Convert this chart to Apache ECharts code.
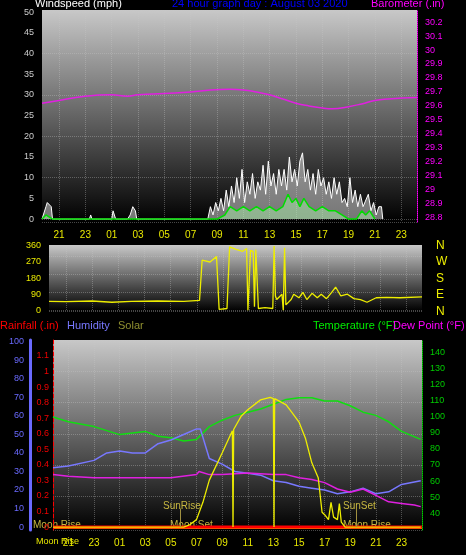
<!DOCTYPE html>
<html><head><meta charset="utf-8">
<script src="https://cdn.jsdelivr.net/npm/echarts@6/dist/echarts.min.js"></script>
<style>html,body{margin:0;background:#000}#c{width:466px;height:555px}</style>
</head><body><div id="c"></div>
<script>
// hours counted from 00:00 of the previous day (24 = midnight)
var hourTicks = [21,23,25,27,29,31,33,35,37,39,41,43,45,47];

var gustT = [19.7,20.0,20.1,20.4,20.5,23.3,23.4,23.5,25.0,25.1,25.3,26.2,26.4,26.6,26.8,26.9,
  32.3,32.5,32.7,32.9,33.1,33.3,33.5,33.7,33.9,34.1,34.3,34.5,34.7,34.9,35.1,35.3,35.5,35.7,35.9,36.1,36.3,36.5,36.7,36.9,
  37.1,37.3,37.5,37.7,37.9,38.1,38.3,38.5,38.7,38.9,39.1,39.3,39.5,39.7,39.9,40.1,40.3,40.5,40.7,40.9,41.1,41.3,41.5,41.7,
  41.9,42.1,42.3,42.5,42.7,42.9,43.1,43.3,43.5,43.7,43.9,44.1,44.5,44.7,44.9,45.1,45.3,45.5,45.6];
var gustV = [0,3,4,3,0,0,1,0,0,2,0,0,1,3,2,0,
  0,3,1,4,2,5,2,7,3,8,4,10,5,12,4,9,6,11,5,9,7,13,6,14,
  8,11,6,12,8,12,7,15,9,12,8,14,16,9,12,7,11,6,12,8,10,6,9,5,
  10,6,9,4,5,3,10,4,7,3,6,3,6,2,4,1,3,3,0];
var avgT = [19.7,20.0,20.5,32.3,33.0,33.6,34.0,34.5,35.0,35.5,36.0,36.5,37.0,37.5,38.0,38.4,38.7,39.0,39.3,39.6,40.0,40.5,41.0,41.5,42.0,42.5,43.0,43.6,44.0,44.3,44.6,45.0];
var avgV = [0,1,0,0,0,1,3,2,3,2,3,2,3,2,3,6,4,5,3,5,3,2,3,2,2,1,0,0,2,1,2,0];
var baroT = [19.7,21,23,25,26.2,27,29,31,32.5,34,35,36,37,38,39,40,41,41.8,43,44,45,46,48.2];
var baroV = [29.62,29.64,29.67,29.68,29.67,29.68,29.69,29.70,29.715,29.72,29.715,29.70,29.68,29.65,29.62,29.60,29.585,29.58,29.595,29.615,29.64,29.65,29.66];

var dirT = [19.7,21,23,24.5,26,28,30,31.2,31.3,31.4,32.0,32.5,32.6,32.7,33.3,33.4,33.5,34.0,34.5,34.8,34.9,35.0,35.1,35.3,35.4,35.5,35.7,36.2,36.8,36.9,37.0,37.1,37.5,37.6,37.7,37.8,37.9,38.2,38.4,38.8,39.1,39.4,39.8,40.2,40.5,40.9,41.3,41.6,42.0,42.5,43.0,43.5,44.0,44.7,45.5,46.5,48.2];
var dirV = [50,48,52,45,50,52,50,55,55,280,270,300,300,5,10,10,355,340,330,345,0,0,335,330,20,340,10,15,10,360,80,60,90,0,350,30,40,60,90,70,100,60,95,70,90,65,100,130,80,90,65,60,45,70,72,70,75];

var tempT = [19.8,21,23,25,26,27,28,29,30,31,32,33,34,35,36,37,38,39,40,41,42,43,44,45,46,47,48.5];
var tempV = [100,97,94,89,90,91,88,87,85,86,94,98,101,103,105,108,111,112,112,110,110,107,103,101,97,91,86];
var humT = [19.8,21,23,24,25,26,27,28,29,30,31,31.3,32,33,34,35,36,37,38,39,40,41,42,43,44,45,46,47,48.5];
var humV = [32,33,36,40,41,40,40,45,47,50,53,53,37,34,30,29,28,25,24,22,21,20,18,19,21,18,19,23,25];
var dewT = [19.8,21,23,25,27,29,31,31.2,32,33,35,37,38,39,40,41,42,43,44,45,46,47,48,48.5];
var dewV = [64,63,62,62,62,62,64,66,64,64,65,64,64,62,61,59,55,53,55,51,47,46,45,44];
var solT = [19.8,30.0,30.5,31.0,31.5,32.0,33.0,33.8,33.85,33.9,34.5,35.0,36.0,36.75,37.0,37.05,37.1,38.0,38.5,39.0,39.5,40.0,40.5,40.8,41.0,41.3,41.5,41.7,42.0,42.15,42.3,42.6,48.5];
var solV = [0,0,20,60,200,380,600,780,0,790,900,950,1030,1050,1040,0,1040,990,920,850,720,520,400,120,100,60,200,80,60,190,40,0,0];

function pairs(t, v) { return t.map(function (x, i) { return [x, v[i]]; }); }
function hh(v) { var h = Math.round(v) % 24; return (h < 10 ? '0' : '') + h; }

var font = 'Liberation Sans';
var dots = { show: true, lineStyle: { color: 'rgba(200,200,200,0.35)', type: 'dotted' } };
var bg = { type: 'linear', x: 0, y: 0, x2: 0, y2: 1, colorStops: [{ offset: 0, color: '#c8c8c8' }, { offset: 1, color: '#000' }] };

function xAx(idx, min, max, showLabels) {
  return {
    type: 'value', gridIndex: idx, min: min, max: max,
    axisLine: { show: false }, splitLine: { show: true, lineStyle: { color: 'rgba(200,200,200,0.35)', type: 'dotted' } },
    axisTick: { show: false, customValues: hourTicks },
    axisLabel: { show: showLabels, customValues: hourTicks, color: '#e8e800', fontSize: 10, fontFamily: font, formatter: hh }
  };
}

var chart = echarts.init(document.getElementById('c'));
chart.setOption({
  backgroundColor: '#000',
  animation: false,
  textStyle: { fontFamily: font },
  grid: [
    { left: 42, right: 49, top: 10, height: 212, show: true, backgroundColor: bg, borderWidth: 0 },
    { left: 49, right: 44, top: 245, height: 66, show: true, backgroundColor: bg, borderWidth: 0 },
    { left: 53, right: 44, top: 340, height: 190, show: true, backgroundColor: bg, borderWidth: 0 }
  ],
  xAxis: [xAx(0, 19.7, 48.2, true), xAx(1, 19.7, 48.2, false), xAx(2, 19.8, 48.6, true)],
  yAxis: [
    { gridIndex: 0, min: -0.7, max: 50.5, axisLine: { show: false }, axisTick: { show: false },
      splitLine: dots, axisLabel: { customValues: [0,5,10,15,20,25,30,35,40,45,50], color: '#ccc', fontSize: 9 } },
    { gridIndex: 0, position: 'right', min: 28.771, max: 30.286, axisLine: { show: true, lineStyle: { color: '#f0f', type: 'dotted' } },
      axisTick: { show: false }, splitLine: { show: false },
      axisLabel: { customValues: [28.8,28.9,29,29.1,29.2,29.3,29.4,29.5,29.6,29.7,29.8,29.9,30,30.1,30.2], color: '#f0f', fontSize: 9,
        formatter: function (v) { return +v.toFixed(1); } } },
    { gridIndex: 1, min: -4, max: 365, axisLine: { show: false }, axisTick: { show: false },
      splitLine: dots, axisLabel: { customValues: [0,90,180,270,360], color: '#e8e800', fontSize: 9 } },
    { gridIndex: 2, position: 'left', offset: 23, min: -1.6, max: 101, axisLine: { show: true, lineStyle: { color: '#6a6aff', width: 3 } },
      axisTick: { show: false }, splitLine: { show: false },
      axisLabel: { customValues: [0,10,20,30,40,50,60,70,80,90,100], color: '#6a6aff', fontSize: 9, margin: 6 } },
    { gridIndex: 2, position: 'left', min: -0.019, max: 1.203, axisLine: { show: true, lineStyle: { color: '#f00', type: 'dashed' } },
      axisTick: { show: false }, splitLine: dots,
      axisLabel: { customValues: [0,0.1,0.2,0.3,0.4,0.5,0.6,0.7,0.8,0.9,1,1.1], color: '#e00', fontSize: 9, margin: 4,
        formatter: function (v) { return +v.toFixed(1); } } },
    { gridIndex: 2, position: 'right', min: 29.4, max: 148.1, axisLine: { show: true, lineStyle: { color: '#0c0', type: 'dotted' } },
      axisTick: { show: false }, splitLine: { show: false },
      axisLabel: { customValues: [40,50,60,70,80,90,100,110,120,130,140], color: '#0c0', fontSize: 9 } },
    { gridIndex: 2, show: false, min: -24, max: 1515 }
  ],
  series: [
    { type: 'line', xAxisIndex: 0, yAxisIndex: 0, data: pairs(gustT, gustV), showSymbol: false,
      lineStyle: { color: '#fff', width: 1 }, areaStyle: { color: 'rgba(225,225,225,0.75)' } },
    { type: 'line', xAxisIndex: 0, yAxisIndex: 0, data: pairs(avgT, avgV), showSymbol: false,
      lineStyle: { color: '#0d0', width: 1.5 }, areaStyle: { color: 'rgba(170,240,170,0.7)' } },
    { type: 'line', xAxisIndex: 0, yAxisIndex: 1, data: pairs(baroT, baroV), showSymbol: false, smooth: true,
      lineStyle: { color: '#e020e0', width: 1.5 } },
    { type: 'line', xAxisIndex: 1, yAxisIndex: 2, data: pairs(dirT, dirV), showSymbol: false,
      lineStyle: { color: '#ee0', width: 1.3 } },
    { type: 'line', xAxisIndex: 2, yAxisIndex: 4, data: [[19.8, 0], [48.6, 0]], showSymbol: false,
      lineStyle: { color: '#f00', width: 3 }, z: 1 },
    { type: 'line', xAxisIndex: 2, yAxisIndex: 5, data: pairs(tempT, tempV), showSymbol: false,
      lineStyle: { color: '#1d1', width: 1.5 } },
    { type: 'line', xAxisIndex: 2, yAxisIndex: 3, data: pairs(humT, humV), showSymbol: false,
      lineStyle: { color: '#7878ff', width: 1.5 } },
    { type: 'line', xAxisIndex: 2, yAxisIndex: 5, data: pairs(dewT, dewV), showSymbol: false,
      lineStyle: { color: '#e020e0', width: 1.5 } },
    { type: 'line', xAxisIndex: 2, yAxisIndex: 6, data: pairs(solT, solV), showSymbol: false,
      lineStyle: { color: '#ee0', width: 1.3 },
      markLine: { silent: true, symbol: 'none', label: { show: false },
        lineStyle: { color: '#a09040', type: 'solid', width: 1 },
        data: [[{ coord: [29.75, 0] }, { coord: [29.75, 150] }], [{ coord: [43.5, 0] }, { coord: [43.5, 150] }]] } }
  ],
  graphic: [
    { type: 'text', left: 35, top: -2, style: { text: 'Windspeed (mph)', fill: '#fff', fontSize: 11, fontFamily: font } },
    { type: 'text', left: 172, top: -2, style: { text: '24 hour graph day : August 03 2020', fill: '#0000ff', fontSize: 11, fontFamily: font } },
    { type: 'text', left: 371, top: -2, style: { text: 'Barometer (.in)', fill: '#f0f', fontSize: 11, fontFamily: font } },
    { type: 'text', left: 436, top: 237, style: { text: 'N\nW\nS\nE\nN', fill: '#ee0', fontSize: 12, lineHeight: 16.5, fontFamily: font } },
    { type: 'text', left: 0, top: 320, style: { text: 'Rainfall (.in)', fill: '#f00', fontSize: 11, fontFamily: font } },
    { type: 'text', left: 67, top: 320, style: { text: 'Humidity', fill: '#7878ff', fontSize: 11, fontFamily: font } },
    { type: 'text', left: 118, top: 320, style: { text: 'Solar', fill: '#909030', fontSize: 11, fontFamily: font } },
    { type: 'text', left: 313, top: 320, style: { text: 'Temperature (°F)', fill: '#0e0', fontSize: 11, fontFamily: font } },
    { type: 'text', left: 393, top: 320, style: { text: 'Dew Point (°F)', fill: '#f0f', fontSize: 11, fontFamily: font } },
    { type: 'text', left: 163, top: 501, style: { text: 'SunRise', fill: '#c8b840', fontSize: 10, fontFamily: font } },
    { type: 'text', left: 343, top: 501, style: { text: 'SunSet', fill: '#c8b840', fontSize: 10, fontFamily: font } },
    { type: 'text', left: 33, top: 520, style: { text: 'Moon Rise', fill: '#c8b840', fontSize: 10, fontFamily: font } },
    { type: 'text', left: 170, top: 520, style: { text: 'Moon Set', fill: '#c8b840', fontSize: 10, fontFamily: font } },
    { type: 'text', left: 343, top: 520, style: { text: 'Moon Rise', fill: '#c8b840', fontSize: 10, fontFamily: font } },
    { type: 'rect', shape: { x: 53, y: 527, width: 369, height: 2 }, style: { fill: '#f0a000' } },
    { type: 'text', left: 36, top: 537, style: { text: 'Moon Rise', fill: '#e8e800', fontSize: 9, fontFamily: font } }
  ]
});
</script></body></html>
